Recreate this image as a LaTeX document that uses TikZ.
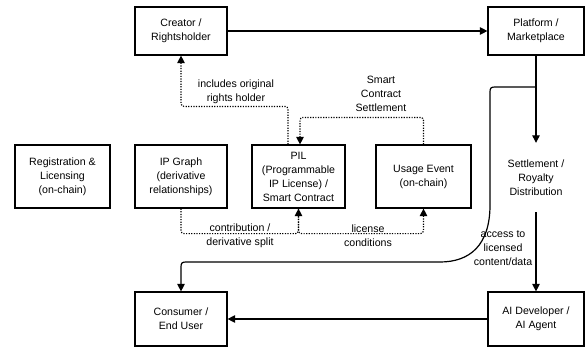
\documentclass[tikz,border=0pt]{standalone}
\usepackage{fontspec}
\setmainfont{Liberation Sans}
\usetikzlibrary{arrows.meta}
\begin{document}
\begin{tikzpicture}[x=1pt,y=-1pt,
  font=\fontsize{10.6}{14}\selectfont,
  box/.style={draw, line width=1.2pt, align=center, inner sep=2pt},
  lbl/.style={align=center, inner sep=0pt},
  tip/.style={-{Triangle[length=7.5pt,width=7.5pt]}},
  solidarrow/.style={line width=1.2pt, tip},
  dotarrow/.style={line width=1.2pt, dash pattern=on 1.2pt off 1.4pt, tip, rounded corners=3pt}]
\useasboundingbox (0,0) rectangle (585,348);

\node[box, minimum width=92pt, minimum height=48pt] (creator) at (181,31) {Creator /\\Rightsholder};
\node[box, minimum width=96pt, minimum height=48pt] (platform) at (536,31) {Platform /\\Marketplace};
\node[box, minimum width=95pt, minimum height=63pt] (reg) at (62.5,176.5) {Registration \&\\Licensing\\(on-chain)};
\node[box, minimum width=92pt, minimum height=63pt] (ipg) at (181,176.5) {IP Graph\\(derivative\\relationships)};
\node[box, minimum width=93pt, minimum height=63pt] (pil) at (298.5,176.5) {PIL\\(Programmable\\IP License) /\\Smart Contract};
\node[box, minimum width=95pt, minimum height=63pt] (usage) at (423.5,176.5) {Usage Event\\(on-chain)};
\node[box, minimum width=92pt, minimum height=54pt] (consumer) at (181,319) {Consumer /\\End User};
\node[box, minimum width=96pt, minimum height=54pt] (ai) at (536,319) {AI Developer /\\AI Agent};
\node[lbl, minimum height=69pt] (settle) at (536,177.5) {Settlement /\\Royalty\\Distribution};

% solid connectors
\draw[solidarrow] (creator.east) -- (platform.west);
\draw[solidarrow] (platform.south) -- (settle.north);
\draw[solidarrow] (settle.south) -- (ai.north);
\draw[solidarrow] (ai.west) -- (consumer.east);
\coordinate (br) at (536,87);
\draw[solidarrow] (br) -- (495,87) .. controls (491,87) and (490,88) .. (490,92)
  -- (490,205) .. controls (490,245) and (470,262) .. (440,262)
  -- (186,262) .. controls (182,262) and (181,263) .. (181,267) -- (consumer.north);

% dotted connectors
\draw[dotarrow] ([xshift=-10.5pt]pil.north) -- ++(0,-38) -| (creator.south);
\draw[dotarrow] (usage.north) -- ++(0,-27) -| ([xshift=1.5pt]pil.north);
\draw[dotarrow] (ipg.south) -- ++(0,25) -| (pil.south);
\draw[dotarrow] (pil.south) -- ++(0,25) -| (usage.south);

% labels
\node[lbl] (l1) at (236,91.5) {includes original\\rights holder};
\node[lbl] (l2) at (381,94) {Smart\\Contract\\Settlement};
\node[lbl] (l3) at (240,235.5) {contribution /\\derivative split};
\node[lbl] (l4) at (368,235.5) {license\\conditions};
\node[lbl] (l5) at (503,248) {access to\\licensed\\content/data};
\end{tikzpicture}
\end{document}
